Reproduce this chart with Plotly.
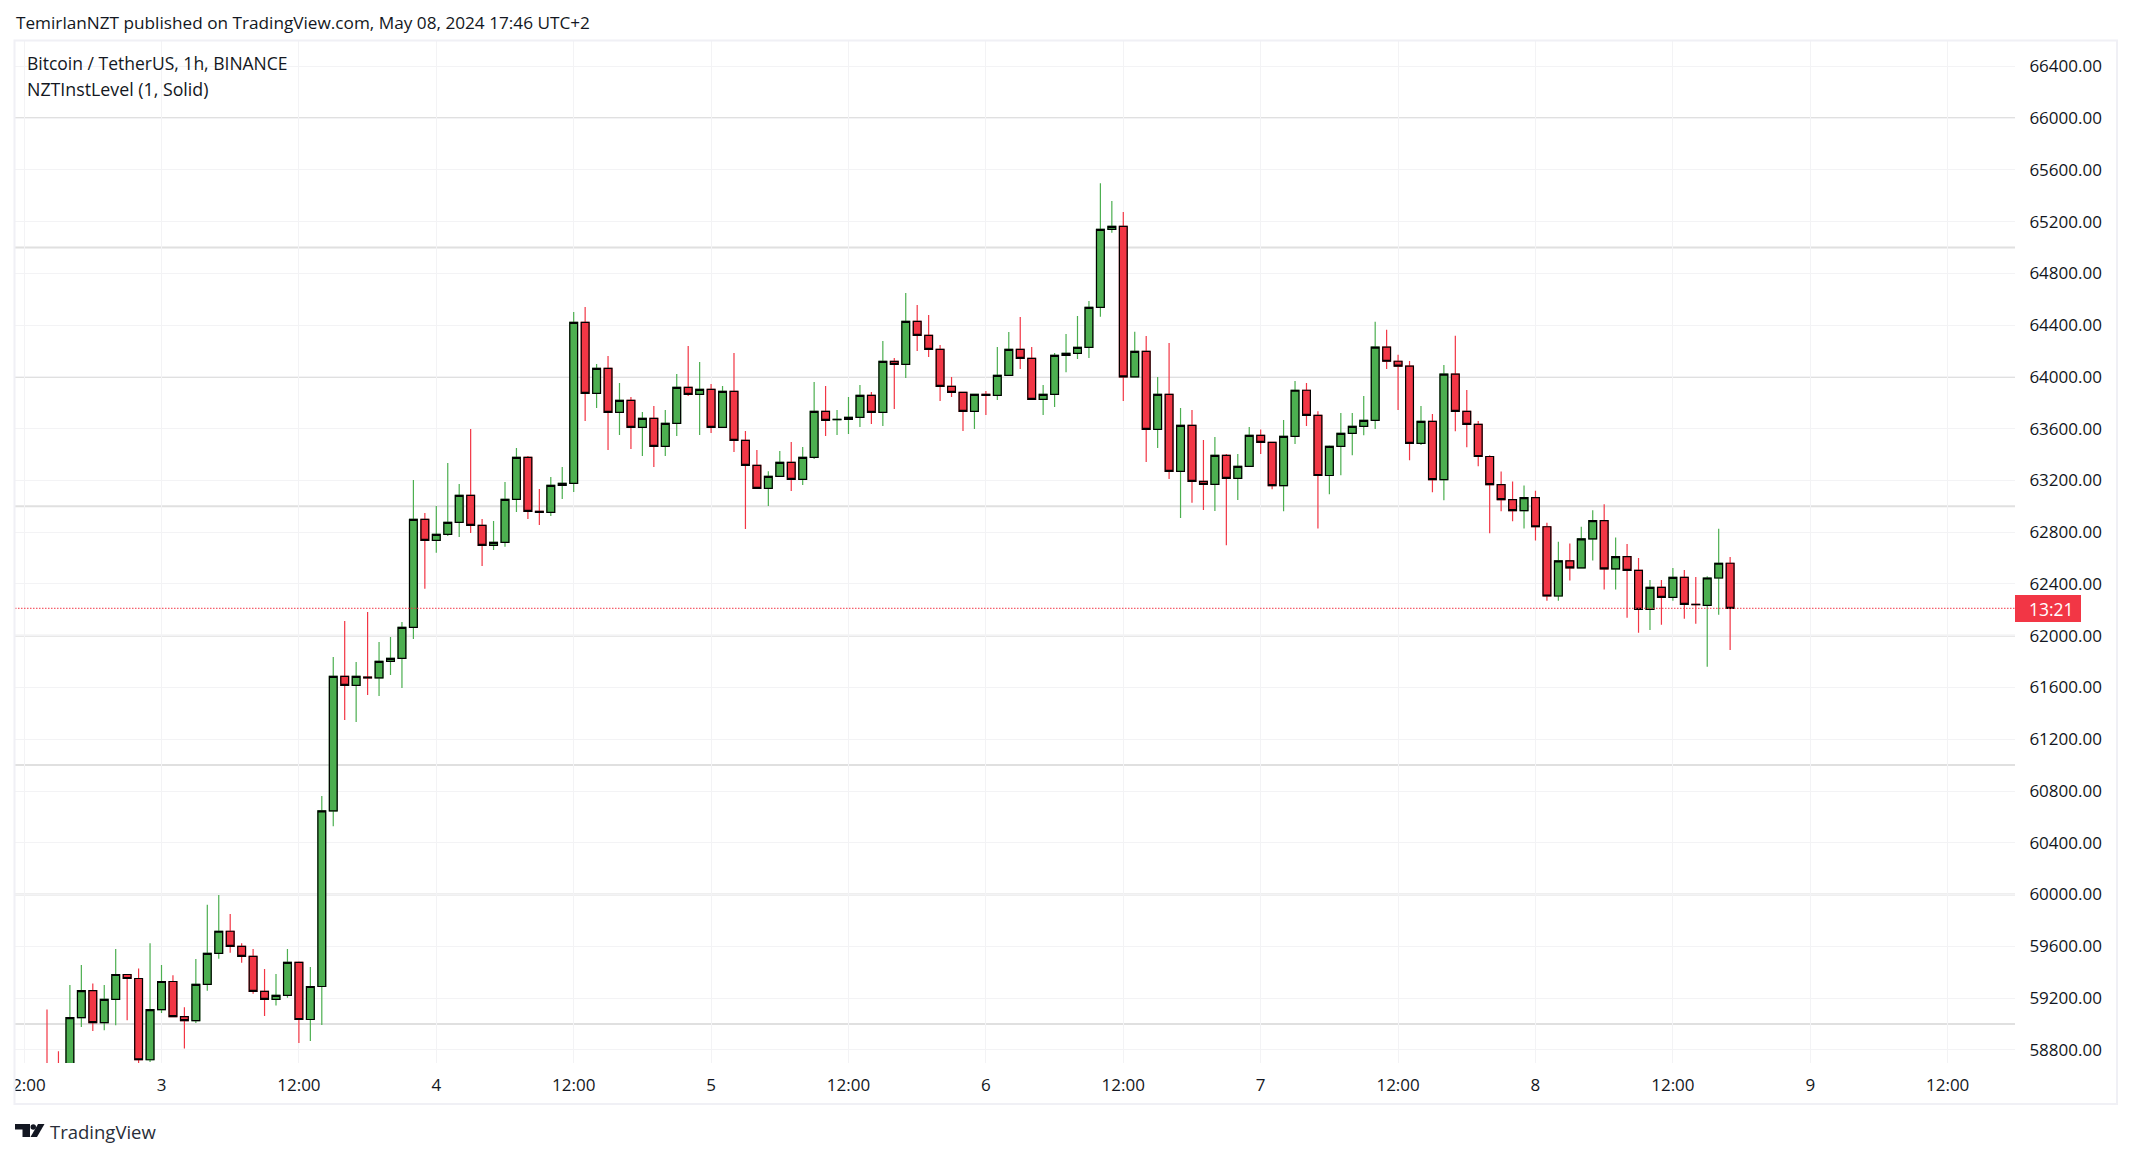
import pandas as pd
import plotly.graph_objects as go

# ---------- data (hourly BTC/USDT) ----------
first_candle = "2024-05-02 14:00"

opens = [58600,58500,58420,59049,59258,59010,59189,59382,59351,58723,
59111,59328,59057,59026,59305,59545,59716,59599,59522,59251,59189,59220,59475,59034,
59289,60646,61686,61616,61680,61675,61802,61825,62065,62899,62737,62783,62876,63084,
62853,62698,62721,63054,63378,62961,62953,63162,63177,64421,63873,64066,63726,63819,
63610,63680,63463,63641,63919,63865,63904,63610,63888,63510,63316,63139,63231,63340,
63208,63378,63734,63670,63672,63687,63857,63726,64120,64097,64429,64321,64213,63927,
63881,63734,63865,63857,64012,64213,64143,63826,63865,64166,64182,64228,64538,65141,
65164,64001,64197,63594,63865,63270,63626,63193,63170,63394,63216,63309,63548,63494,
63160,63540,63897,63703,63238,63463,63563,63618,63664,64230,64121,64083,63486,63656,
63207,64021,63734,63633,63385,63168,63052,62966,63067,62842,62307,62579,62525,62749,
62889,62517,62612,62505,62204,62374,62297,62451,62243,62235,62446,62560]

highs = [59111,58788,59300,59455,59313,59300,59579,59385,59429,59623,
59455,59377,59129,59501,59920,59997,59850,59623,59579,59424,59385,59579,59483,59439,
60761,61835,62113,61797,62183,61951,61990,62106,63203,62948,63002,63334,63172,63597,
62902,62886,63188,63450,63388,63133,63226,63303,64501,64540,64100,64161,63953,63845,
63729,63775,63744,64022,64239,64115,63945,63929,64184,63582,63435,63272,63427,63497,
63458,63960,63929,63744,63844,63937,63883,64277,64146,64648,64555,64478,64246,63999,
63881,63865,63891,64231,64347,64463,64231,63937,64184,64331,64471,64587,65496,65359,
65274,64349,64316,63999,64262,63759,63744,63512,63535,63404,63404,63613,63594,63494,
63667,63969,63953,63734,63470,63721,63721,63853,64426,64364,64171,64124,63775,63713,
64093,64318,63899,63659,63395,63269,63191,63160,63121,62873,62726,62713,62842,62969,
63016,62760,62709,62600,62430,62431,62524,62508,62454,62459,62826,62609]

lows = [58420,58300,58400,58977,58946,58951,58990,59028,58692,58705,
59085,59054,58811,59008,59256,59504,59550,59473,59233,59062,59142,59202,58853,58868,
58992,60527,61349,61333,61542,61534,61696,61596,61974,62363,62641,62770,62762,62793,
62538,62662,62688,62956,62902,62855,62925,63056,63110,63659,63759,63435,63551,63443,
63388,63303,63388,63543,63852,63551,63566,63610,63419,62824,63139,63002,63231,63118,
63164,63365,63543,63551,63558,63613,63636,63620,63752,63991,64200,64154,63814,63845,
63582,63597,63705,63821,64012,64061,63826,63705,63767,64037,64138,64146,64465,65115,
63814,64001,63342,63450,63211,62909,63028,62971,62963,62700,63048,63309,63404,63132,
62961,63481,63620,62829,63093,63240,63395,63550,63597,64062,63744,63357,63473,63109,
63047,63581,63457,63310,62791,62961,62884,62829,62736,62271,62271,62426,62525,62581,
62357,62357,62139,62023,62044,62085,62271,62132,62093,61760,62163,61889]

closes = [58500,58420,59049,59258,59010,59189,59382,59351,58723,59111,
59328,59057,59026,59305,59545,59716,59599,59522,59251,59189,59220,59475,59034,59289,
60646,61686,61616,61686,61675,61802,61825,62065,62899,62737,62783,62876,63084,62853,
62698,62721,63054,63378,62961,62953,63162,63177,64421,63873,64066,63726,63819,63610,
63680,63463,63641,63919,63865,63904,63610,63888,63510,63316,63139,63231,63340,63208,
63378,63734,63664,63672,63687,63857,63726,64120,64097,64429,64321,64213,63927,63881,
63734,63865,63857,64012,64213,64143,63826,63865,64166,64182,64228,64538,65141,65164,
64001,64197,63594,63865,63270,63626,63193,63170,63394,63216,63309,63548,63494,63160,
63540,63897,63703,63238,63463,63563,63618,63664,64230,64121,64083,63486,63656,63207,
64021,63734,63633,63385,63168,63052,62966,63067,62842,62307,62579,62525,62749,62889,
62517,62612,62505,62204,62374,62297,62451,62243,62240,62446,62560,62212]

level_prices = [59000, 60000, 61000, 62000, 63000, 64000, 65000, 66000]
price_ticks = list(range(58800, 66401, 400))
time_ticks = ["2024-05-02 12:00", "2024-05-03 00:00", "2024-05-03 12:00", "2024-05-04 00:00",
              "2024-05-04 12:00", "2024-05-05 00:00", "2024-05-05 12:00", "2024-05-06 00:00",
              "2024-05-06 12:00", "2024-05-07 00:00", "2024-05-07 12:00", "2024-05-08 00:00",
              "2024-05-08 12:00", "2024-05-09 00:00", "2024-05-09 12:00"]
time_labels = ["12:00", "3", "12:00", "4", "12:00", "5", "12:00", "6", "12:00", "7",
               "12:00", "8", "12:00", "9", "12:00"]
x_view = ["2024-05-02 11:12:18", "2024-05-09 17:52:48"]
y_view = [58698, 66596]

assert len(opens) == len(highs) == len(lows) == len(closes) == 148
times = pd.date_range(first_candle, periods=len(opens), freq="h")

# ---------- styles ----------
GREEN, RED, INK = "#4caf50", "#f23645", "#131722"
FONT = "Open Sans"
W, H = 2132, 1158
L, R, T, B = 15, 2015, 41, 1063


def px(x):
    return (x - L) / (R - L)


def py(y):
    return 1 - (y - T) / (B - T)


def poly(points):
    return "M " + " L ".join(f"{px(a)} {py(b)}" for a, b in points) + " Z"


fig = go.Figure()

# full-range candles give the coloured wicks
fig.add_trace(go.Candlestick(
    x=times, open=opens, high=highs, low=lows, close=closes,
    increasing=dict(line=dict(color=GREEN, width=1.2), fillcolor=GREEN),
    decreasing=dict(line=dict(color=RED, width=1.2), fillcolor=RED),
    whiskerwidth=0, hoverinfo="skip", showlegend=False))
# body-only candles on top give the black outlines
fig.add_trace(go.Candlestick(
    x=times, open=opens, close=closes,
    high=[max(a, b) for a, b in zip(opens, closes)],
    low=[min(a, b) for a, b in zip(opens, closes)],
    increasing=dict(line=dict(color="#000000", width=1.2), fillcolor=GREEN),
    decreasing=dict(line=dict(color="#000000", width=1.2), fillcolor=RED),
    whiskerwidth=0, hoverinfo="skip", showlegend=False))

shapes = []
for lv in level_prices:
    shapes.append(dict(type="line", xref="paper", yref="y", x0=0, x1=1, y0=lv, y1=lv,
                       layer="below", line=dict(color="#e0e0e0", width=2)))
# last price dotted line
shapes.append(dict(type="line", xref="paper", yref="y", x0=0, x1=1, y0=closes[-1], y1=closes[-1],
                   layer="above", line=dict(color=RED, width=1, dash="1.5px,1.5px")))
# mask clipping the first time label at the pane edge
shapes.append(dict(type="rect", xref="paper", yref="paper", x0=px(0), x1=px(14), y0=py(1066), y1=py(1100),
                   layer="above", fillcolor="#ffffff", line=dict(width=0)))
# outer frame
shapes.append(dict(type="rect", xref="paper", yref="paper", x0=px(14.5), x1=px(2117), y0=py(1104), y1=py(40.5),
                   layer="above", line=dict(color="#f0f0f5", width=2)))
# countdown badge
shapes.append(dict(type="rect", xref="paper", yref="paper", x0=px(2015), x1=px(2081), y0=py(622), y1=py(595),
                   layer="above", fillcolor=RED, line=dict(width=0)))
# TradingView logo
shapes.append(dict(type="path", xref="paper", yref="paper", layer="above", fillcolor=INK, line=dict(width=0),
                   path=poly([(15, 1124), (30, 1124), (30, 1137), (22.5, 1137), (22.5, 1129.5), (15, 1129.5)])))
shapes.append(dict(type="path", xref="paper", yref="paper", layer="above", fillcolor=INK, line=dict(width=0),
                   path=poly([(38, 1124), (44.5, 1124), (37, 1137), (30.5, 1137)])))
shapes.append(dict(type="circle", xref="paper", yref="paper", layer="above", fillcolor=INK, line=dict(width=0),
                   x0=px(30.5), x1=px(36), y0=py(1129.8), y1=py(1124.3)))


def note(text, x, y, size, color=INK, anchor="left"):
    return dict(text=text, xref="paper", yref="paper", x=px(x), y=py(y), xanchor=anchor, yanchor="middle",
                showarrow=False, font=dict(family=FONT, size=size, color=color), borderpad=0)


annotations = [
    note("TemirlanNZT published on TradingView.com, May 08, 2024 17:46 UTC+2", 15, 22, 17.2),
    note("Bitcoin / TetherUS, 1h, BINANCE", 26, 63, 17.5),
    note("NZTInstLevel (1, Solid)", 26, 89.5, 17.8),
    note("TradingView", 49, 1131.5, 18.5, "#2a2e39"),
    note("13:21", 2051, 609, 17.5, "#ffffff", "center"),
]

fig.update_layout(
    width=W, height=H, paper_bgcolor="#ffffff", plot_bgcolor="#ffffff",
    margin=dict(l=L, r=W - R, t=T, b=H - B, autoexpand=False),
    showlegend=False, shapes=shapes, annotations=annotations,
    boxgap=0.32, boxgroupgap=0,
    xaxis=dict(type="date", range=x_view, rangeslider=dict(visible=False),
               tickmode="array", tickvals=time_ticks, ticktext=time_labels,
               showgrid=True, gridcolor="#f3f3f5", gridwidth=1, zeroline=False, showline=False,
               ticks="outside", ticklen=7, tickcolor="rgba(0,0,0,0)",
               tickfont=dict(family=FONT, size=17, color=INK)),
    yaxis=dict(range=y_view, side="right", tickmode="array", tickvals=price_ticks,
               ticktext=[f"{p:.2f}" for p in price_ticks],
               showgrid=True, gridcolor="#f3f3f5", gridwidth=1, zeroline=False, showline=False,
               ticks="outside", ticklen=10, tickcolor="rgba(0,0,0,0)",
               tickfont=dict(family=FONT, size=17, color=INK)),
)

fig.write_html("out.html", config=dict(displayModeBar=False), post_script="document.body.style.margin='0';")
